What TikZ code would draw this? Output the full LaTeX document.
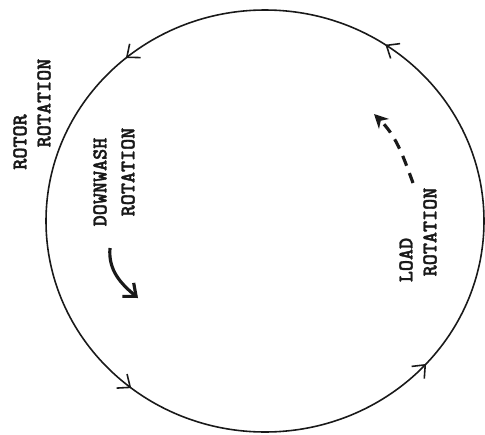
\documentclass[tikz,border=0pt]{standalone}
\usepackage{fontspec}
\newfontfamily\labelfont{lmmonolt10-bold.otf}[FakeBold=1.6]
\usetikzlibrary{arrows.meta,decorations.markings}
\definecolor{inkblack}{RGB}{25,25,25}

\begin{document}
\begin{tikzpicture}[
  lbl/.style={font=\labelfont\fontsize{12}{13}\selectfont, rotate=90, inner sep=0pt, text=inkblack},
  flowarrow/.style={inkblack, line width=1.8pt}
]
  \useasboundingbox (0,0) rectangle (9.7,8.68);
  % Rotor disc with rotation arrows
  \coordinate (hub) at (5.30,4.26);
  \draw[inkblack, line width=0.9pt, postaction={decorate}, decoration={markings,
      mark=at position 0.156 with {\arrow{Straight Barb[length=6pt,width=10pt]}},
      mark=at position 0.361 with {\arrow{Straight Barb[length=6pt,width=10pt]}},
      mark=at position 0.644 with {\arrow{Straight Barb[length=6pt,width=10pt]}},
      mark=at position 0.883 with {\arrow{Straight Barb[length=6pt,width=10pt]}}}]
    (hub) ellipse [x radius=4.38, y radius=4.22];
  % Labels
  \node[lbl] (rotor) at (0.40,5.84) {ROTOR};
  \node[lbl] (rotorrot) at (0.88,6.62) {ROTATION};
  \node[lbl] (downwash) at (2.00,5.04) {DOWNWASH};
  \node[lbl] (downwashrot) at (2.56,5.24) {ROTATION};
  \node[lbl] (load) at (8.12,3.48) {LOAD};
  \node[lbl] (loadrot) at (8.60,4.04) {ROTATION};
  % Downwash arrow
  \coordinate (dwstart) at (2.20,3.72);
  \coordinate (dwend) at (2.76,2.72);
  \draw[flowarrow, -{Straight Barb[length=6pt,width=10pt]}] (dwstart) to[out=-95,in=140] (dwend);
  % Load arrow (dashed)
  \coordinate (ldstart) at (8.26,5.02);
  \coordinate (ldend) at (7.48,6.40);
  \draw[flowarrow, dash pattern=on 6pt off 4.5pt, -{Stealth[length=8pt,width=8pt]}] (ldstart) to[out=110,in=-45] (ldend);
\end{tikzpicture}
\end{document}
